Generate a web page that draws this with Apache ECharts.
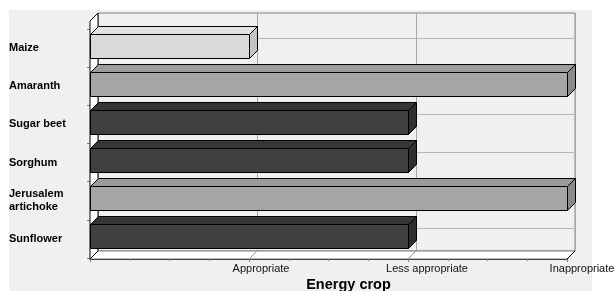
<!DOCTYPE html>
<html>
<head>
<meta charset="utf-8">
<script src="https://cdn.jsdelivr.net/npm/echarts@6/dist/echarts.min.js"></script>
<style>
  html, body { margin: 0; padding: 0; background: #fff; }
  #chart { width: 615px; height: 291px; }
</style>
</head>
<body>
<div id="chart"></div>
<script>
// 数据
var categories = ['Maize', 'Amaranth', 'Sugar beet', 'Sorghum', 'Jerusalem\nartichoke', 'Sunflower'];
var ratings = [1, 3, 2, 2, 3, 2];
var ratingLabels = ['', 'Appropriate', 'Less appropriate', 'Inappropriate'];

// 每个等级的柱子颜色（正面 / 顶面 / 侧面）
var shades = {
    1: { front: '#d9d9d9', top: '#e2e2e2', side: '#c4c4c4' },
    2: { front: '#404040', top: '#363636', side: '#2e2e2e' },
    3: { front: '#a6a6a6', top: '#9c9c9c', side: '#8a8a8a' }
};

// 图形框架（像素）
var W = 615, H = 291;
var FL = 90, FR = 567, FT = 21, FB = 259; // 前平面
var D = 8;                                 // 3D 深度偏移
var labelShift = [0, 12, 19, 15];          // x 轴标签右移量

var chart = echarts.init(document.getElementById('chart'));
var font = "'Liberation Sans', Arial, sans-serif";

function richLabels() {
    var r = {};
    for (var i = 1; i < ratingLabels.length; i++) {
        r['r' + i] = { fontSize: 11, color: '#111', fontFamily: font, padding: [0, 0, 0, labelShift[i] * 2] };
    }
    return r;
}

// 网格（不让 v6 自动收缩）
function grid(l, r, t, b, extra) {
    return echarts.util.extend({ left: l, right: r, top: t, bottom: b, outerBoundsMode: 'none', containLabel: false }, extra || {});
}

// 地板上的斜线（从前到后）
var floorLines = [];
for (var k = 0; k < ratingLabels.length; k++) {
    var fx = FL + (FR - FL) * k / (ratingLabels.length - 1);
    floorLines.push({
        type: 'line', z: 3,
        shape: { x1: fx, y1: FB, x2: fx + D, y2: FB - D },
        style: { stroke: (k === 0 || k === ratingLabels.length - 1) ? '#000' : '#999', lineWidth: 1 }
    });
}

var option = {
    animation: false,
    graphic: [
        { type: 'rect', z: -10, shape: { x: 9, y: 10, width: 583, height: H - 10 }, style: { fill: '#f0f0f0' } },
        { type: 'polygon', z: 2, shape: { points: [[FL, FT], [FL + D, FT - D], [FL + D, FB - D], [FL, FB]] },
          style: { fill: '#fff', stroke: '#000', lineWidth: 1 } },
        { type: 'polygon', z: 2, shape: { points: [[FL, FB], [FR, FB], [FR + D, FB - D], [FL + D, FB - D]] },
          style: { fill: '#fff', stroke: '#808080', lineWidth: 1 } }
    ].concat(floorLines),
    grid: [
        // 0: 后墙（竖线）
        grid(FL + D, W - FR - D, FT - D, H - FB + D,
             { show: true, backgroundColor: '#f0f0f0', borderColor: '#808080', borderWidth: 1 }),
        // 1: 后墙（横线，在类别中心）
        grid(FL + D, W - FR - D, 38, H - 228),
        // 2: 柱子
        grid(FL, W - FR, 27, H - 255),
        // 3: 前框架（x 轴）
        grid(FL, W - FR, FT, H - FB),
        // 4: 类别标签
        grid(FL, W - FR, 29, H - 258)
    ],
    xAxis: [
        { gridIndex: 0, type: 'value', min: 0, max: 3, interval: 1,
          axisLine: { show: false }, axisTick: { show: false }, axisLabel: { show: false },
          splitLine: { show: true, lineStyle: { color: '#a8a8a8', width: 1 } } },
        { gridIndex: 1, type: 'value', min: 0, max: 3, show: false },
        { gridIndex: 2, type: 'value', min: 0, max: 3, show: false },
        { gridIndex: 3, type: 'value', min: 0, max: 3, interval: 1,
          axisLine: { show: true, lineStyle: { color: '#000', width: 1 } },
          axisTick: { show: true, length: 3, lineStyle: { color: '#808080' } },
          minorTick: { show: true, splitNumber: 4, length: 2, lineStyle: { color: '#808080' } },
          splitLine: { show: false },
          axisLabel: {
              margin: 4,
              hideOverlap: false,
              formatter: function (v) {
                  return ratingLabels[v] ? '{r' + v + '|' + ratingLabels[v] + '}' : '';
              },
              rich: richLabels()
          },
          name: 'Energy crop', nameLocation: 'middle', nameGap: 18, nameMoveOverlap: false,
          nameTextStyle: { fontFamily: font, fontSize: 14.5, fontWeight: 'bold', color: '#000', padding: [0, 0, 0, 40] } },
        { gridIndex: 4, type: 'value', min: 0, max: 3, show: false }
    ],
    yAxis: [
        { gridIndex: 0, type: 'value', show: false },
        { gridIndex: 1, type: 'category', data: categories, inverse: true, boundaryGap: false,
          axisLine: { show: false }, axisTick: { show: false }, axisLabel: { show: false },
          splitLine: { show: true, lineStyle: { color: '#b8b8b8', width: 1 } } },
        { gridIndex: 2, type: 'category', data: categories, inverse: true, show: false },
        { gridIndex: 3, type: 'value', min: 0, max: 1,
          axisLine: { show: true, lineStyle: { color: '#000', width: 1 } },
          axisTick: { show: false }, axisLabel: { show: false }, splitLine: { show: false } },
        { gridIndex: 4, type: 'category', data: categories, inverse: true,
          axisLine: { show: false },
          axisTick: { show: true, length: 3, inside: false, lineStyle: { color: '#808080' } },
          axisLabel: { align: 'left', margin: FL - 9, fontFamily: font, fontSize: 11, fontWeight: 'bold',
                       color: '#000', lineHeight: 13 } }
    ],
    series: [{
        type: 'custom',
        xAxisIndex: 2,
        yAxisIndex: 2,
        z: 10,
        data: ratings.map(function (v, i) { return [v, i]; }),
        renderItem: function (params, api) {
            var v = api.value(0), i = api.value(1);
            var p0 = api.coord([0, i]), p1 = api.coord([v, i]);
            var h = 24;
            var x0 = Math.round(p0[0]) + 0.5, x1 = Math.round(p1[0]) + 0.5;
            var yt = Math.round(p0[1] - h / 2) + 0.5, yb = yt + h;
            var c = shades[v];
            var st = { stroke: '#000', lineWidth: 1, lineJoin: 'miter' };
            return {
                type: 'group',
                children: [
                    { type: 'polygon', shape: { points: [[x0, yt], [x1, yt], [x1 + D, yt - D], [x0 + D, yt - D]] },
                      style: echarts.util.extend({ fill: c.top }, st) },
                    { type: 'polygon', shape: { points: [[x1, yt], [x1 + D, yt - D], [x1 + D, yb - D], [x1, yb]] },
                      style: echarts.util.extend({ fill: c.side }, st) },
                    { type: 'rect', shape: { x: x0, y: yt, width: x1 - x0, height: h },
                      style: echarts.util.extend({ fill: c.front }, st) }
                ]
            };
        }
    }]
};

chart.setOption(option);
</script>
</body>
</html>
